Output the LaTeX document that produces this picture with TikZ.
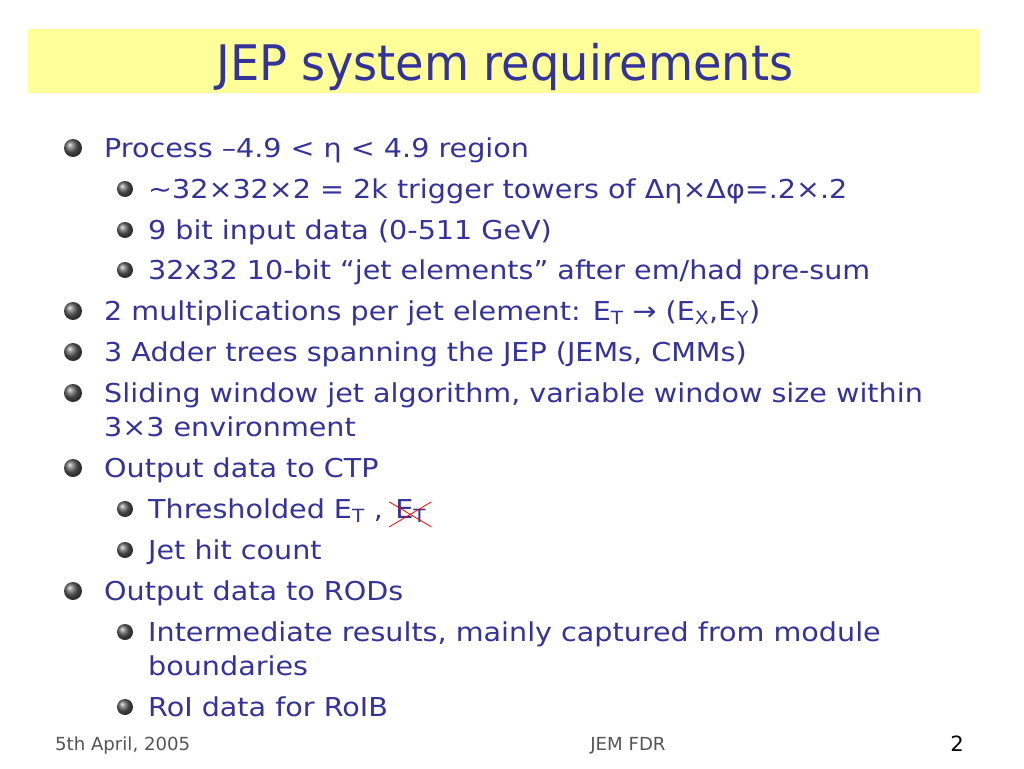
\documentclass[tikz,border=0pt]{standalone}
\usepackage{fontspec}
\setmainfont{DejaVu Sans}[FakeStretch=1.1]
\newfontfamily\titlefont{DejaVu Sans Condensed}[FakeStretch=1.05]
\newfontfamily\condfont{DejaVu Sans Condensed}[FakeStretch=1.12]
\usetikzlibrary{positioning}

\definecolor{slideblue}{RGB}{51,51,153}
\definecolor{titleyellow}{RGB}{255,255,153}
\definecolor{footgrey}{RGB}{85,85,85}

\tikzset{
	item/.style={anchor=base west, text=slideblue, inner sep=0pt, font=\fontsize{26}{30}\selectfont},
	foot/.style={anchor=base, text=footgrey, inner sep=0pt, font=\condfont\fontsize{18}{20}\selectfont},
}
\newcommand{\bulletball}[3]{\shade[ball color=gray!75!black] (#1,#2) circle (#3);}

\begin{document}
\begin{tikzpicture}[x=1pt, y=-1pt]

		\useasboundingbox (0, 0) rectangle (1024, 768);
		\fill [white] (0, 0) rectangle (1024, 768);

		% title band
		\fill [titleyellow] (28, 29) rectangle (980, 93);
		\node [anchor=base, text=slideblue, inner sep=0pt, font=\titlefont\fontsize{49}{55}\selectfont] (title) at (505, 80) {JEP system requirements};

		% first level
		\bulletball{73}{148}{9}
		\node [item] (proc) at (104, 157) {Process –4.9 < η < 4.9 region};

		\bulletball{125}{189}{8}
		\node [item] (towers) at (148, 198) {\textasciitilde32×32×2 = 2k trigger towers of Δη×Δφ=.2×.2};

		\bulletball{125}{230}{8}
		\node [item] (input) at (148, 239) {9 bit input data (0-511 GeV)};

		\bulletball{125}{270}{8}
		\node [item] (elems) at (148, 279) {32x32 10-bit “jet elements” after em/had pre-sum};

		\bulletball{73}{311}{9}
		\node [item] (mult) at (104, 320) {2 multiplications per jet element: E\textsubscript{T} → (E\textsubscript{X},E\textsubscript{Y})};

		\bulletball{73}{352}{9}
		\node [item] (adder) at (104, 361) {3 Adder trees spanning the JEP (JEMs, CMMs)};

		\bulletball{73}{393}{9}
		\node [item] (slide) at (104, 402) {Sliding window jet algorithm, variable window size within};
		\node [item] (slideb) at (104, 436) {3×3 environment};

		% outputs
		\bulletball{73}{468}{9}
		\node [item] (ctp) at (104, 477) {Output data to CTP};

		\bulletball{125}{509}{8}
		\node [item] (thresh) at (148, 518) {Thresholded E\textsubscript{T} ,};
		\node [item, right=12pt of thresh.base east, anchor=base west] (etcross) {E\textsubscript{T}};
		\draw [red, line width=0.8pt] ([shift={(-6pt,-3pt)}]etcross.north west) -- ([shift={(5pt,-4pt)}]etcross.south east);
		\draw [red, line width=0.8pt] ([shift={(-6pt,-4pt)}]etcross.south west) -- ([shift={(5pt,-3pt)}]etcross.north east);

		\bulletball{125}{550}{8}
		\node [item] (hits) at (148, 559) {Jet hit count};

		\bulletball{73}{591}{9}
		\node [item] (rods) at (104, 600) {Output data to RODs};

		\bulletball{125}{632}{8}
		\node [item] (inter) at (148, 641) {Intermediate results, mainly captured from module};
		\node [item] (interb) at (148, 675) {boundaries};

		\bulletball{125}{707}{8}
		\node [item] (roi) at (148, 716) {RoI data for RoIB};

		% footer
		\node [foot, anchor=base west] (date) at (55, 750) {5th April, 2005};
		\node [foot] (event) at (628, 750) {JEM FDR};
		\node [foot, text=black, font=\condfont\fontsize{21}{24}\selectfont] (page) at (957, 751) {2};
	\end{tikzpicture}
\end{document}
